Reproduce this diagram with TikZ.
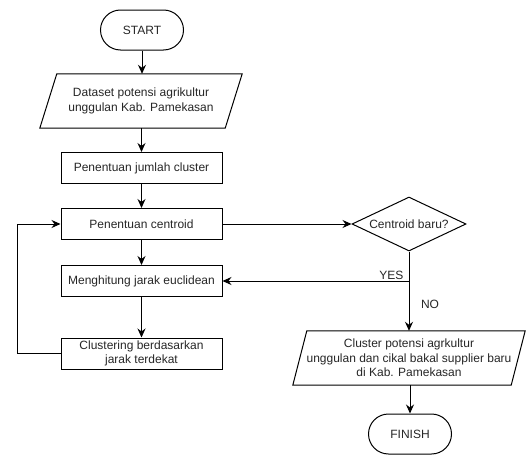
\documentclass[tikz,border=0pt]{standalone}
\usepackage{fontspec}
\setmainfont{Liberation Sans}
\usetikzlibrary{arrows.meta,shapes.geometric}
\begin{document}
\begin{tikzpicture}[x=1pt,y=-1pt,
  every node/.style={font=\fontsize{12}{14.5}\selectfont, text=black!85},
  proc/.style={draw, line width=1pt, minimum width=161pt, minimum height=31pt, inner sep=0pt},
  term/.style={draw, line width=1pt, rounded corners=20pt, minimum width=83pt, minimum height=40pt, inner sep=0pt},
  io/.style={inner sep=0pt, align=center},
  dec/.style={draw, line width=1pt, diamond, aspect=2.1, minimum width=114pt, minimum height=54pt, inner sep=0pt},
  arr/.style={line width=1pt, -{Stealth[length=9pt,width=8pt,inset=3pt]}},
  ln/.style={line width=1pt},
  lbl/.style={font=\fontsize{12}{14}\selectfont}
]
\useasboundingbox (0,0) rectangle (528,455);
\node[term] (start) at (142,30) {START};
\node[io, minimum width=185pt, minimum height=54pt] (data) at (141,101) {Dataset potensi agrikultur\\unggulan Kab. Pamekasan};
\draw[ln] ([xshift=8.5pt]data.north west) -- ([xshift=8.5pt]data.north east) -- ([xshift=-8.5pt]data.south east) -- ([xshift=-8.5pt]data.south west) -- cycle;
\node[proc] (jml) at (141.5,168) {Penentuan jumlah cluster};
\node[proc] (cen) at (141.5,224) {Penentuan centroid};
\node[proc] (euc) at (141.5,281) {Menghitung jarak euclidean};
\node[proc, align=center] (clu) at (141.5,353.5) {Clustering berdasarkan\\jarak terdekat};
\node[dec] (baru) at (409,224) {Centroid baru?};
\node[io, minimum width=218pt, minimum height=54pt] (hasil) at (409,358) {Cluster potensi agrkultur\\unggulan dan cikal bakal supplier baru\\di Kab. Pamekasan};
\draw[ln] ([xshift=7pt]hasil.north west) -- ([xshift=7pt]hasil.north east) -- ([xshift=-7pt]hasil.south east) -- ([xshift=-7pt]hasil.south west) -- cycle;
\node[term] (finish) at (410,434) {FINISH};
\coordinate (lp) at (17,353.5);
\coordinate (jn) at (409,281);

\draw[arr] (start) -- (data.north -| start);
\draw[arr] (data.south -| jml) -- (jml);
\draw[arr] (jml) -- (cen);
\draw[arr] (cen) -- (euc);
\draw[arr] (euc) -- (clu);
\draw[ln] (clu.west) -- (lp);
\draw[arr] (lp) |- (cen.west);
\draw[arr] (cen.east) -- (baru.west);
\draw[ln] (baru.south) -- (jn);
\draw[arr] (jn) -- (euc.east);
\node[lbl, anchor=south east] at ([xshift=-2pt,yshift=-2pt]jn) {YES};
\draw[arr] (jn) -- (hasil.north -| jn);
\node[lbl] at (430,304) {NO};
\draw[arr] (hasil.south -| finish) -- (finish);
\end{tikzpicture}
\end{document}
